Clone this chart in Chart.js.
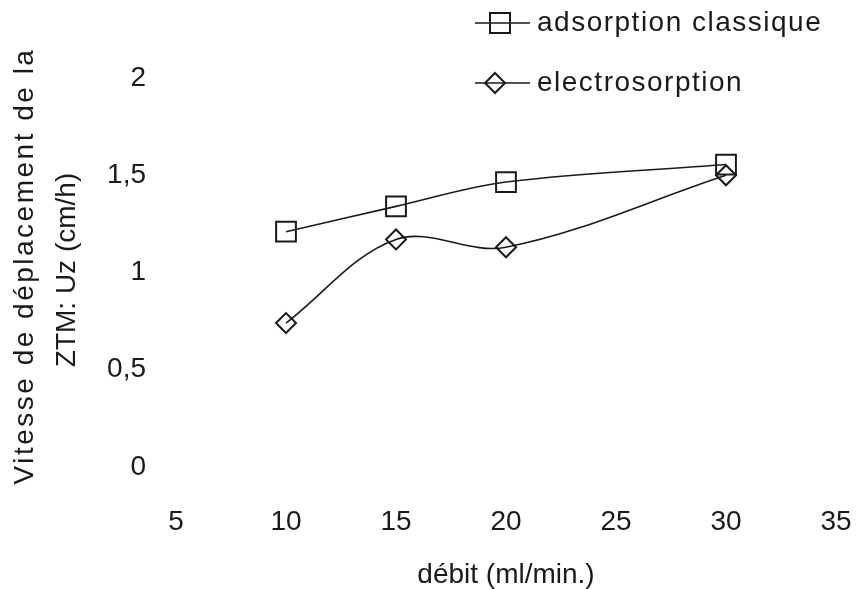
<!DOCTYPE html>
<html>
<head>
<meta charset="utf-8">
<script src="https://cdn.jsdelivr.net/npm/chart.js@4.4.0/dist/chart.umd.min.js"></script>
<style>
  html, body { margin: 0; padding: 0; background: #ffffff; }
  #wrap { width: 858px; height: 589px; position: relative; }
</style>
</head>
<body>
<div id="wrap"><canvas id="c" width="858" height="589"></canvas></div>
<script>
// ---- data ----
const debit = [10, 15, 20, 30];
const adsorptionClassique = [1.21, 1.34, 1.465, 1.555];
const electrosorption = [0.74, 1.17, 1.13, 1.50];
const seriesNames = ['adsorption classique', 'electrosorption'];
const yTitleLines = ['Vitesse de déplacement de la', 'ZTM: Uz (cm/h)'];
const xTitle = 'débit (ml/min.)';

const FONT = '"Liberation Sans", Arial, Helvetica, sans-serif';
const INK = '#1a1a1a';

const toPts = (xs, ys) => xs.map((x, i) => ({ x: x, y: ys[i] }));

// custom y-title + stacked legend
const decor = {
  id: 'decor',
  afterDraw(chart) {
    const ctx = chart.ctx;
    ctx.save();
    ctx.fillStyle = INK;
    ctx.textAlign = 'center';
    ctx.textBaseline = 'middle';
    const titleStyle = [
      { x: 25, y: 266, size: 28, spacing: '2.5px' },
      { x: 67, y: 270, size: 28, spacing: '0px' }
    ];
    yTitleLines.forEach((t, i) => {
      const st = titleStyle[i];
      ctx.save();
      ctx.font = st.size + 'px ' + FONT;
      try { ctx.letterSpacing = st.spacing; } catch (e) {}
      ctx.translate(st.x, st.y);
      ctx.rotate(-Math.PI / 2);
      ctx.fillText(t, 0, 0);
      ctx.restore();
    });
    // legend
    ctx.font = '28px ' + FONT;
    try { ctx.letterSpacing = '1.5px'; } catch (e) {}
    ctx.textAlign = 'left';
    const rows = [23, 83];
    chart.data.datasets.forEach((ds, i) => {
      const y = rows[i];
      ctx.strokeStyle = INK;
      ctx.lineWidth = 1.6;
      ctx.beginPath();
      ctx.moveTo(475, y);
      ctx.lineTo(530, y);
      ctx.stroke();
      ctx.lineWidth = 2;
      ctx.beginPath();
      if (ds.pointStyle === 'rect') {
        ctx.rect(490, y - 10, 20, 20);
      } else {
        ctx.moveTo(495, y - 10); ctx.lineTo(505, y); ctx.lineTo(495, y + 10); ctx.lineTo(485, y); ctx.closePath();
      }
      ctx.stroke();
      ctx.fillText(ds.label, 537, y);
    });
    ctx.restore();
  }
};

new Chart(document.getElementById('c'), {
  type: 'line',
  data: {
    datasets: [
      {
        label: seriesNames[0],
        data: toPts(debit, adsorptionClassique),
        borderColor: INK, borderWidth: 1.6,
        pointStyle: 'rect', pointRadius: 14, pointBorderWidth: 2,
        pointBackgroundColor: 'rgba(0,0,0,0)', pointBorderColor: INK,
        tension: 0.35, fill: false
      },
      {
        label: seriesNames[1],
        data: toPts(debit, electrosorption),
        borderColor: INK, borderWidth: 1.6,
        pointStyle: 'rectRot', pointRadius: 10, pointBorderWidth: 2,
        pointBackgroundColor: 'rgba(0,0,0,0)', pointBorderColor: INK,
        tension: 0.35, fill: false
      }
    ]
  },
  options: {
    responsive: false,
    animation: false,
    layout: { padding: { top: 78, right: 22, left: 0, bottom: 0 } },
    plugins: { legend: { display: false }, tooltip: { enabled: false } },
    scales: {
      x: {
        type: 'linear', min: 5, max: 35,
        ticks: { stepSize: 5, color: INK, font: { family: FONT, size: 28 }, padding: 3, maxRotation: 0 },
        grid: { display: true, drawOnChartArea: false, drawTicks: true, tickLength: 35, tickColor: 'rgba(0,0,0,0)' },
        border: { display: false },
        title: { display: true, text: xTitle, color: INK, font: { family: FONT, size: 28, lineHeight: 1 }, padding: { top: 0, bottom: 0 } },
        afterFit(s) { s.height = 122; }
      },
      y: {
        min: 0, max: 2,
        ticks: {
          stepSize: 0.5, color: INK, font: { family: FONT, size: 28 }, padding: 3,
          callback: v => String(v).replace('.', ',')
        },
        grid: { display: true, drawOnChartArea: false, drawTicks: true, tickLength: 27, tickColor: 'rgba(0,0,0,0)' },
        border: { display: false },
        afterFit(s) { s.width = 176; }
      }
    }
  },
  plugins: [decor]
});
</script>
</body>
</html>
